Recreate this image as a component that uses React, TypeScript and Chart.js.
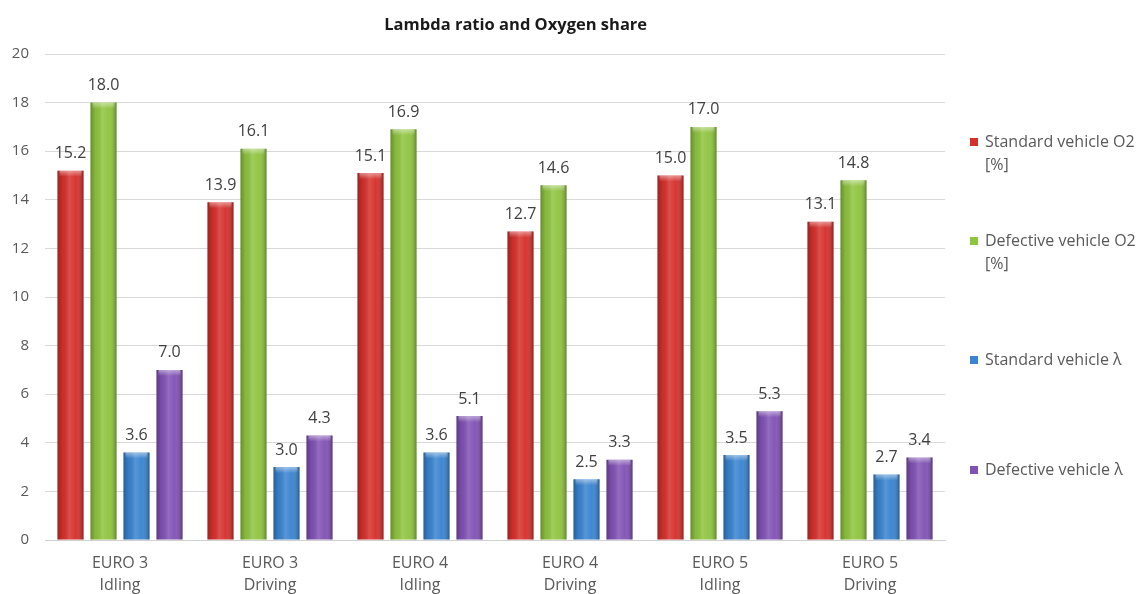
import React, { useEffect, useRef } from "react";
import { Chart, registerables } from "chart.js";

Chart.register(...registerables);

const categories: string[][] = [
  ["EURO 3", "Idling"],
  ["EURO 3", "Driving"],
  ["EURO 4", "Idling"],
  ["EURO 4", "Driving"],
  ["EURO 5", "Idling"],
  ["EURO 5", "Driving"],
];
const standardO2 = [15.2, 13.9, 15.1, 12.7, 15.0, 13.1];
const defectiveO2 = [18.0, 16.1, 16.9, 14.6, 17.0, 14.8];
const standardLambda = [3.6, 3.0, 3.6, 2.5, 3.5, 2.7];
const defectiveLambda = [7.0, 4.3, 5.1, 3.3, 5.3, 3.4];
const seriesNames: string[][] = [
  ["Standard vehicle O2", "[%]"],
  ["Defective vehicle O2", "[%]"],
  ["Standard vehicle λ"],
  ["Defective vehicle λ"],
];
const seriesColors = ["#d6302c", "#8fc43f", "#3a84d0", "#8152b5"];
const legendRows = [142, 241, 360, 470];
const titleText = "Lambda ratio and Oxygen share";
const FONT = "'Open Sans', sans-serif";

const decorPlugin = {
  id: "decor",
  afterDatasetsDraw(chart: any) {
    const ctx = chart.ctx;
    chart.data.datasets.forEach((_ds: any, di: number) => {
      const meta = chart.getDatasetMeta(di);
      meta.data.forEach((bar: any) => {
        const w = bar.width;
        const x0 = bar.x - w / 2;
        const g = ctx.createLinearGradient(x0, 0, x0 + w, 0);
        g.addColorStop(0, "rgba(0,0,0,0.28)");
        g.addColorStop(0.2, "rgba(0,0,0,0.05)");
        g.addColorStop(0.45, "rgba(255,255,255,0.15)");
        g.addColorStop(0.7, "rgba(255,255,255,0.03)");
        g.addColorStop(1, "rgba(0,0,0,0.32)");
        ctx.save();
        ctx.fillStyle = g;
        ctx.fillRect(x0, bar.y, w, bar.base - bar.y);
        const cap = ctx.createLinearGradient(0, bar.y, 0, bar.y + 6);
        cap.addColorStop(0, "rgba(255,255,255,0.45)");
        cap.addColorStop(1, "rgba(255,255,255,0)");
        ctx.fillStyle = cap;
        ctx.fillRect(x0 + 2, bar.y, w - 4, 6);
        ctx.restore();
      });
    });
    ctx.save();
    ctx.font = `16px ${FONT}`;
    ctx.fillStyle = "#404040";
    ctx.textAlign = "center";
    ctx.textBaseline = "middle";
    chart.data.datasets.forEach((ds: any, di: number) => {
      const meta = chart.getDatasetMeta(di);
      meta.data.forEach((bar: any, i: number) => {
        ctx.fillText(Number(ds.data[i]).toFixed(1), bar.x, bar.y - 17);
      });
    });
    ctx.restore();
  },
  afterDraw(chart: any) {
    const ctx = chart.ctx;
    const ca = chart.chartArea;
    ctx.save();
    ctx.font = `bold 16.5px ${FONT}`;
    ctx.fillStyle = "#1a1a1a";
    ctx.textAlign = "center";
    ctx.textBaseline = "middle";
    ctx.fillText(titleText, ca.left + (ca.right - ca.left) * 0.523, 25);
    ctx.font = `16px ${FONT}`;
    ctx.textAlign = "left";
    const lx = ca.right + 25;
    seriesNames.forEach((lines, i) => {
      const y = legendRows[i];
      ctx.fillStyle = seriesColors[i];
      ctx.fillRect(lx, y - 4, 8, 8);
      ctx.fillStyle = "#595959";
      lines.forEach((ln, j) => {
        ctx.fillText(ln, lx + 15, y + j * 23);
      });
    });
    ctx.restore();
  },
};

export default function App() {
  const canvasRef = useRef<HTMLCanvasElement>(null);
  useEffect(() => {
    document.body.style.margin = "0";
    const seriesData = [standardO2, defectiveO2, standardLambda, defectiveLambda];
    const chart = new Chart(canvasRef.current as HTMLCanvasElement, {
      type: "bar",
      data: {
        labels: categories,
        datasets: seriesData.map((d, i) => ({
          label: seriesNames[i].join(" "),
          data: d,
          backgroundColor: seriesColors[i],
          borderWidth: 0,
          barPercentage: 0.79,
          categoryPercentage: 0.88,
        })),
      },
      options: {
        animation: false,
        responsive: false,
        maintainAspectRatio: false,
        layout: { padding: { top: 54, right: 196, left: 0, bottom: 0 } },
        plugins: {
          legend: { display: false },
          title: { display: false },
          tooltip: { enabled: false },
        },
        scales: {
          x: {
            grid: { display: false, drawTicks: false },
            border: { display: true, color: "#d0d0d0", width: 1 },
            ticks: {
              color: "#595959",
              font: { family: FONT, size: 16, lineHeight: 1.4 },
              padding: 12,
              maxRotation: 0,
            },
            afterFit(scale: any) {
              scale.height = 54;
            },
          },
          y: {
            min: 0,
            max: 20,
            ticks: {
              stepSize: 2,
              color: "#595959",
              font: { family: FONT, size: 15 },
              padding: 16,
            },
            grid: { color: "#d9d9d9", lineWidth: 1, drawTicks: false },
            border: { display: false },
            afterFit(scale: any) {
              scale.width = 45;
            },
          },
        },
      },
      plugins: [decorPlugin],
    });
    return () => chart.destroy();
  }, []);
  return (
    <div style={{ width: 1141, height: 594, background: "#fff" }}>
      <canvas ref={canvasRef} width={1141} height={594} style={{ display: "block" }} />
    </div>
  );
}
